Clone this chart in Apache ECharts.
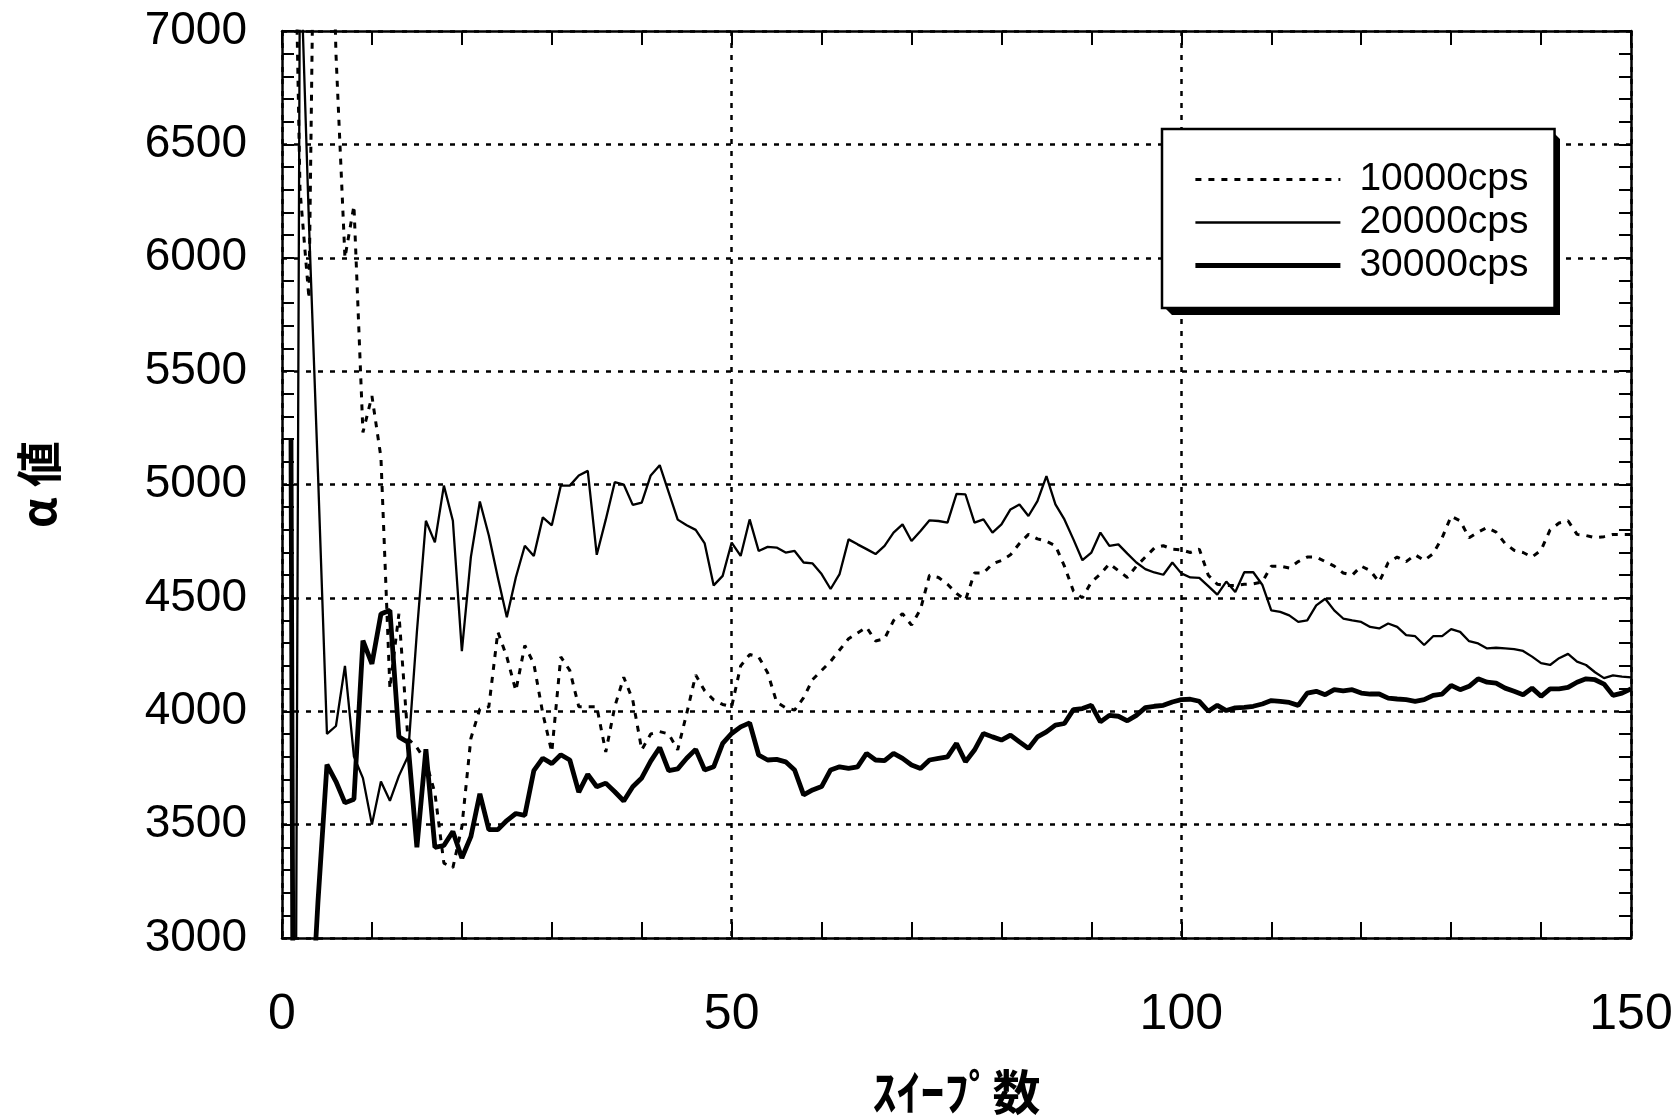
<!DOCTYPE html>
<html>
<head>
<meta charset="utf-8">
<title>α値 - スイープ数</title>
<script src="https://cdn.jsdelivr.net/npm/echarts@6/dist/echarts.min.js"></script>
<style>
  html, body { margin: 0; padding: 0; background: #fff; }
  #chart { width: 1678px; height: 1118px; }
</style>
</head>
<body>
<div id="chart"></div>
<script>
// sweep count 1..150
const sweeps = [];
for (let i = 1; i <= 150; i++) sweeps.push(i);

const seriesNames = ["10000cps", "20000cps", "30000cps"];

// alpha values (values past 7000 / below 3000 are clipped)
const cps10000 = [
  8500, 6300, 5820, 9000, 8500, 6900, 6000, 6230, 5230, 5390,
  5120, 4100, 4430, 3880, 3840, 3780, 3640, 3330, 3310, 3490,
  3880, 4010, 4020, 4350, 4240, 4090, 4290, 4210, 3990, 3820,
  4240, 4180, 4020, 4020, 4020, 3820, 4020, 4150, 4050, 3830,
  3900, 3910, 3900, 3830, 3990, 4160, 4090, 4050, 4030, 4020,
  4200, 4250, 4240, 4170, 4040, 4015, 4005, 4060, 4140, 4180,
  4220, 4270, 4320, 4345, 4370, 4310, 4320, 4400, 4430, 4380,
  4450, 4600, 4590, 4560, 4520, 4490, 4610, 4610, 4650, 4665,
  4690, 4740, 4780, 4760, 4750, 4730, 4640, 4530, 4500, 4570,
  4605, 4650, 4620, 4590, 4640, 4680, 4720, 4730, 4715, 4712,
  4700, 4715, 4600, 4560, 4555, 4555, 4560, 4562, 4570, 4640,
  4640, 4632, 4660, 4680, 4680, 4660, 4640, 4610, 4600, 4640,
  4620, 4570, 4655, 4680, 4660, 4690, 4665, 4695, 4765, 4860,
  4840, 4765, 4790, 4810, 4790, 4740, 4710, 4700, 4680, 4710,
  4800, 4830, 4840, 4780, 4775, 4765, 4770, 4780, 4780, 4780
];
const cps20000 = [
  -3000, 7400, 6150, 5050, 3900, 3935, 4200, 3800, 3705, 3500,
  3690, 3605, 3715, 3800, 4350, 4840, 4745, 4995, 4840, 4265,
  4680, 4925, 4775, 4590, 4415, 4590, 4730, 4685, 4855, 4820,
  4995, 4995, 5040, 5060, 4690, 4845, 5010, 5000, 4910, 4920,
  5040, 5085, 4965, 4845, 4820, 4800, 4740, 4555, 4597, 4744,
  4685, 4846, 4707, 4725, 4722, 4700, 4707, 4656, 4652, 4605,
  4539, 4605, 4758, 4736, 4715, 4693, 4729, 4788, 4824, 4751,
  4795, 4842, 4839, 4832, 4959, 4956, 4832, 4846, 4788, 4824,
  4890, 4912, 4861, 4927, 5037, 4912, 4846, 4758, 4666, 4700,
  4788, 4729, 4736, 4695, 4656, 4627, 4612, 4602, 4656, 4608,
  4590, 4588, 4552, 4514, 4572, 4526, 4613, 4613, 4558, 4445,
  4438, 4423, 4394, 4401, 4467, 4496, 4445, 4409, 4401, 4394,
  4372, 4365, 4387, 4372, 4336, 4331, 4292, 4331, 4331, 4362,
  4350, 4309, 4299, 4277, 4280, 4277, 4274, 4266, 4241, 4212,
  4204, 4234, 4253, 4219, 4204, 4172, 4146, 4158, 4153, 4149
];
const cps30000 = [
  5200, -6000, 2450, 3160, 3765, 3690, 3596, 3612, 4311, 4209,
  4429, 4445, 3887, 3863, 3400, 3832, 3400, 3408, 3470, 3353,
  3447, 3636, 3478, 3478, 3518, 3549, 3541, 3738, 3793, 3769,
  3808, 3785, 3643, 3722, 3667, 3683, 3645, 3604, 3667, 3706,
  3780, 3840, 3738, 3746, 3793, 3832, 3741, 3755, 3858, 3902,
  3931, 3949, 3807, 3785, 3788, 3777, 3741, 3631, 3653, 3668,
  3741, 3755, 3748, 3755, 3814, 3785, 3782, 3814, 3792, 3763,
  3748, 3785, 3792, 3799, 3858, 3777, 3829, 3902, 3887, 3873,
  3895, 3865, 3836, 3887, 3909, 3939, 3946, 4007, 4012, 4026,
  3953, 3982, 3978, 3958, 3982, 4016, 4022, 4026, 4041, 4051,
  4053, 4044, 4000, 4026, 4003, 4015, 4017, 4022, 4032, 4047,
  4044, 4039, 4026, 4080, 4088, 4073, 4095, 4090, 4095, 4080,
  4076, 4076, 4058, 4054, 4051, 4044, 4051, 4070, 4076, 4114,
  4095, 4110, 4143, 4128, 4124, 4102, 4088, 4073, 4102, 4066,
  4099, 4099, 4105, 4128, 4143, 4139, 4120, 4070, 4080, 4099
];

const pairs = vals => sweeps.map((s, i) => [s, vals[i]]);

const chart = echarts.init(document.getElementById("chart"));

const black = "#000";
const gridDash = { color: black, width: 2.5, type: [5, 7] };
const frame = { show: true, onZero: false, lineStyle: { color: black, width: 2.5 } };

const dotted = { color: black, width: 3, type: [6, 7] };
const thin = { color: black, width: 2.3 };
const thick = { color: black, width: 4.8 };

// legend box: left/top and size in px
const lgX = 1162, lgY = 129, lgW = 388, lgH = 176, sh = 10;

chart.setOption({
  backgroundColor: "#fff",
  animation: false,
  grid: { left: 282, right: 47, top: 31, bottom: 180, outerBoundsMode: "none", containLabel: false },
  graphic: [
    {
      // drop shadow of the legend box, bevelled corners
      type: "polygon",
      z: 3,
      silent: true,
      shape: {
        points: [
          [lgX + lgW, lgY], [lgX + lgW + sh, lgY + sh], [lgX + lgW + sh, lgY + lgH + sh],
          [lgX + sh, lgY + lgH + sh], [lgX, lgY + lgH], [lgX + lgW, lgY + lgH]
        ]
      },
      style: { fill: black }
    }
  ],
  legend: {
    data: [
      { name: seriesNames[0], lineStyle: dotted },
      { name: seriesNames[1], lineStyle: thin },
      { name: seriesNames[2], lineStyle: thick }
    ],
    orient: "vertical",
    left: lgX,
    top: lgY,
    width: lgW,
    itemWidth: 145,
    itemHeight: 14,
    itemGap: 4,
    padding: [31, 26, 23, 31],
    backgroundColor: "#fff",
    borderColor: black,
    borderWidth: 2.5,
    borderRadius: 0,
    z: 5,
    itemStyle: { color: "rgba(0,0,0,0)", borderWidth: 0 },
    textStyle: {
      fontSize: 39,
      fontFamily: "Liberation Sans, Arial, sans-serif",
      color: black,
      padding: [0, 0, 0, 14]
    }
  },
  xAxis: [
    {
      type: "value",
      position: "bottom",
      min: 0,
      max: 150,
      interval: 50,
      axisLine: frame,
      axisTick: { show: true, inside: true, length: 16, lineStyle: { color: black, width: 2 } },
      minorTick: { show: true, splitNumber: 5, length: 16, lineStyle: { color: black, width: 2 } },
      splitLine: { show: true, lineStyle: gridDash },
      axisLabel: {
        margin: 52,
        fontSize: 50,
        fontFamily: "Liberation Sans Narrow, Arial Narrow, sans-serif",
        color: black
      },
      name: "ｽｲｰﾌﾟ数",
      nameLocation: "middle",
      nameGap: 130,
      nameTextStyle: {
        fontSize: 48,
        fontWeight: "bold",
        fontFamily: "Noto Sans CJK JP",
        color: black
      }
    },
    {
      type: "value",
      position: "top",
      min: 0,
      max: 150,
      interval: 50,
      axisLine: frame,
      axisTick: { show: true, inside: true, length: 14, lineStyle: { color: black, width: 2 } },
      minorTick: { show: true, splitNumber: 5, length: 14, lineStyle: { color: black, width: 2 } },
      splitLine: { show: false },
      axisLabel: { show: false }
    }
  ],
  yAxis: [
    {
      type: "value",
      position: "left",
      min: 3000,
      max: 7000,
      interval: 500,
      axisLine: frame,
      axisTick: { show: true, inside: true, length: 12, lineStyle: { color: black, width: 2 } },
      minorTick: { show: true, splitNumber: 5, length: 12, lineStyle: { color: black, width: 2 } },
      splitLine: { show: true, lineStyle: gridDash },
      axisLabel: {
        margin: 35,
        fontSize: 46,
        fontFamily: "Liberation Sans, Arial, sans-serif",
        color: black,
        formatter: v => String(v)
      },
      name: "α 値",
      nameLocation: "middle",
      nameGap: 220,
      nameRotate: 90,
      nameTextStyle: {
        fontSize: 46,
        fontWeight: "bold",
        fontFamily: "Noto Sans CJK JP",
        color: black
      }
    },
    {
      type: "value",
      position: "right",
      min: 3000,
      max: 7000,
      interval: 500,
      axisLine: frame,
      axisTick: { show: true, inside: true, length: 12, lineStyle: { color: black, width: 2 } },
      minorTick: { show: true, splitNumber: 5, length: 12, lineStyle: { color: black, width: 2 } },
      splitLine: { show: false },
      axisLabel: { show: false }
    }
  ],
  series: [
    {
      name: seriesNames[0],
      type: "line",
      data: pairs(cps10000),
      symbol: "none",
      clip: true,
      lineStyle: dotted,
      itemStyle: { color: black },
      z: 2
    },
    {
      name: seriesNames[1],
      type: "line",
      data: pairs(cps20000),
      symbol: "none",
      clip: true,
      lineStyle: thin,
      itemStyle: { color: black },
      z: 2
    },
    {
      name: seriesNames[2],
      type: "line",
      data: pairs(cps30000),
      symbol: "none",
      clip: true,
      lineStyle: thick,
      itemStyle: { color: black },
      z: 2
    }
  ]
});
</script>
</body>
</html>
